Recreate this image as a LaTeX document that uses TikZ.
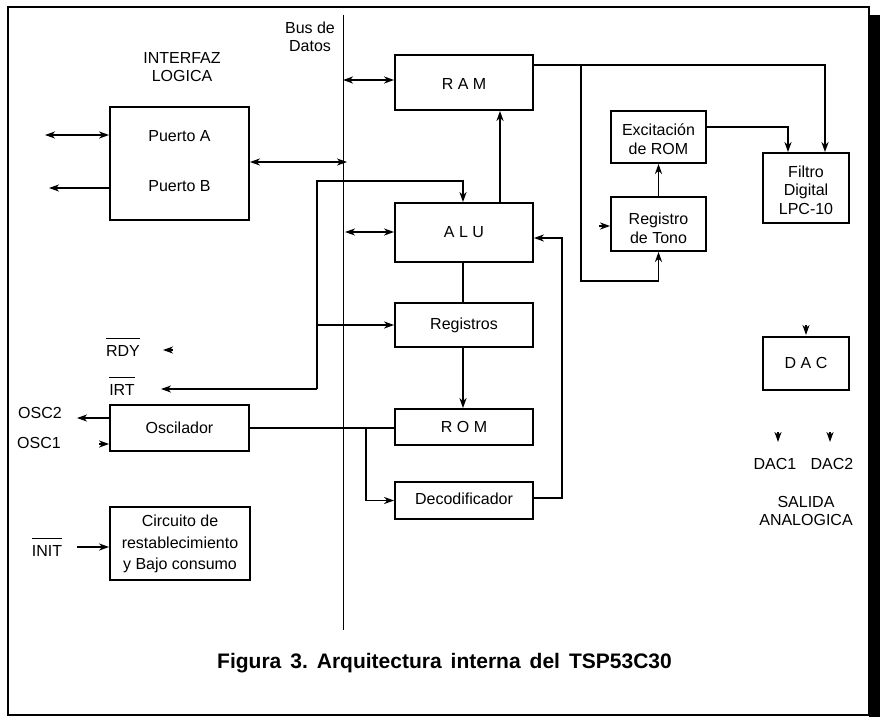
\documentclass[tikz,border=0pt]{standalone}
\usepackage{fontspec}
\setmainfont{Liberation Sans}
\usetikzlibrary{arrows.meta}
\newcommand{\ovbar}[1]{\setbox0=\hbox{#1}\rlap{\rule[17.5pt]{\wd0}{1.3pt}}\box0}
\begin{document}
\begin{tikzpicture}[x=1pt,y=-1pt,
  font=\fontsize{16}{18.5}\selectfont,
  line width=1.8pt,
  box/.style={draw, line width=1.8pt, inner sep=0pt},
  lbl/.style={inner sep=0pt, align=center},
  tip/.style={-{Stealth[length=10pt,width=7pt,inset=3pt]}},
  dtip/.style={{Stealth[length=10pt,width=7pt,inset=3pt]}-{Stealth[length=10pt,width=7pt,inset=3pt]}}]
\useasboundingbox (0,0) rectangle (883,717);
% frame and shadow
\draw[line width=1.8pt] (8,7) rectangle (869,715);
\fill (869,15) rectangle (880,717);
% data bus
\coordinate (busT) at (343,15);
\coordinate (busB) at (343,630);
\draw[line width=1pt] (busT) -- (busB);
\node[lbl] (busl) at (310,37) {Bus de\\Datos};
\node[lbl] (ifz) at (182,67) {INTERFAZ\\LOGICA};
% boxes
\node[box, minimum width=139pt, minimum height=113pt] (puerto) at (179.5,163.5) {};
\node[lbl] (pA) at (179.5,136) {Puerto A};
\node[lbl] (pB) at (179.5,186) {Puerto B};
\node[box, minimum width=138pt, minimum height=55pt] (ram) at (464,82.5) {};
\node[lbl] at (464,84) {R A M};
\node[box, minimum width=138pt, minimum height=59pt] (alu) at (464,232.5) {};
\node[lbl] at (464,232) {A L U};
\node[box, minimum width=138pt, minimum height=44pt] (reg) at (464,325) {};
\node[lbl] at (464,325) {Registros};
\node[box, minimum width=138pt, minimum height=36pt] (rom) at (464,427) {};
\node[lbl] at (464,427) {R O M};
\node[box, minimum width=138pt, minimum height=37pt] (dec) at (464,500.5) {};
\node[lbl] at (464,499) {Decodificador};
\node[box, minimum width=139pt, minimum height=46pt] (osc) at (179.5,428) {};
\node[lbl] at (179.5,428) {Oscilador};
\node[box, minimum width=140pt, minimum height=73pt] (circ) at (180,543.5) {};
\node[lbl, font=\fontsize{16}{21.5}\selectfont] at (180,544) {Circuito de\\restablecimiento\\y Bajo consumo};
\node[box, minimum width=95pt, minimum height=52pt] (exc) at (658.5,137) {};
\node[lbl] at (658.5,139) {Excitación\\de ROM};
\node[box, minimum width=95pt, minimum height=54pt] (ton) at (658.5,224) {};
\node[lbl] at (658.5,228.5) {Registro\\de Tono};
\node[box, minimum width=86pt, minimum height=70pt] (filt) at (806,188) {};
\node[lbl] at (806,190) {Filtro\\Digital\\LPC-10};
\node[box, minimum width=86pt, minimum height=53pt] (dac) at (806,363.5) {};
\node[lbl] at (806,363) {D A C};
% pin labels
\node[lbl] (rdy) at (123,347) {\ovbar{RDY}};
\node[lbl] (irtl) at (122,386) {\ovbar{IRT}};
\node[lbl] (osc2l) at (40,413) {OSC2};
\node[lbl] (osc1l) at (39,443) {OSC1};
\node[lbl] (initl) at (47,547) {\ovbar{INIT}};
\node[lbl] (dac1l) at (775,464) {DAC1};
\node[lbl] (dac2l) at (832,464) {DAC2};
\node[lbl] (sal) at (806,511) {SALIDA\\ANALOGICA};
% coordinates for free ends
\coordinate (paL) at (45,135);
\coordinate (pbL) at (49,188);
\coordinate (busP) at (347,162);
\coordinate (busR) at (343,80);
\coordinate (busA) at (345,232);
\coordinate (lp) at (317,181);
\coordinate (irt) at (161,389);
\coordinate (br) at (366,428);
\coordinate (osc2t) at (77,418);
\coordinate (osc1t) at (99,444);
\coordinate (initt) at (77,547);
\coordinate (rdyA) at (173,350);
\coordinate (rdyB) at (163,350);
\coordinate (rr) at (825,65);
\coordinate (bx) at (581,65);
\coordinate (bb) at (581,281);
\coordinate (ef) at (788,127);
\coordinate (st) at (599,226);
\coordinate (dtA) at (806,325);
\coordinate (dtB) at (806,335);
\coordinate (d1A) at (778,432);
\coordinate (d1B) at (778,442);
\coordinate (d2A) at (830,432);
\coordinate (d2B) at (830,442);
% connectors
\draw[dtip] (paL) -- (puerto.west |- paL);
\draw[tip] (puerto.west |- pbL) -- (pbL);
\draw[dtip] (puerto.east |- busP) -- (busP);
\draw[dtip] (busR) -- (ram.west |- busR);
\draw[dtip] (busA) -- (alu.west |- busA);
\draw[tip] ([xshift=36pt]alu.north) -- ([xshift=36pt]ram.south);
\draw[tip] (lp |- irt) -- (irt);
\draw[tip] (lp |- irt) -- (lp) -| ([xshift=-1pt]alu.north);
\draw[tip] (lp |- reg.west) -- (reg.west);
\draw ([xshift=-1pt]alu.south) -- ([xshift=-1pt]reg.north);
\draw[tip] ([xshift=-1pt]reg.south) -- ([xshift=-1pt]rom.north);
\draw[tip] ([yshift=2.5pt]dec.east) -- ++(28,0) |- ([yshift=-5.5pt]alu.east);
\draw (osc.east) -- (rom.west |- osc.east);
\draw[tip] (br) |- (dec.west);
\draw[tip] (osc.west |- osc2t) -- (osc2t);
\draw[tip] (osc1t) -- (osc.west |- osc1t);
\draw[tip] (initt) -- (circ.west |- initt);
\draw[tip] (rdyA) -- (rdyB);
\draw[tip] (ram.east |- rr) -- (rr) -- (filt.north -| rr);
\draw[tip] (bx) -- (bb) -| (ton.south);
\draw[tip] (ton.north) -- (exc.south);
\draw[tip] (exc.east |- ef) -- (ef) -- (filt.north -| ef);
\draw[tip] (st) -- (ton.west |- st);
\draw[tip] (dtA) -- (dtB);
\draw[tip] (d1A) -- (d1B);
\draw[tip] (d2A) -- (d2B);
% caption
\node[inner sep=0pt, anchor=base] (cap) at (444.5,668) {\fontsize{21}{25}\selectfont\bfseries Figura\hspace{9pt}3.\hspace{9pt}Arquitectura\hspace{9pt}interna\hspace{9pt}del\hspace{9pt}TSP53C30};
\end{tikzpicture}
\end{document}
